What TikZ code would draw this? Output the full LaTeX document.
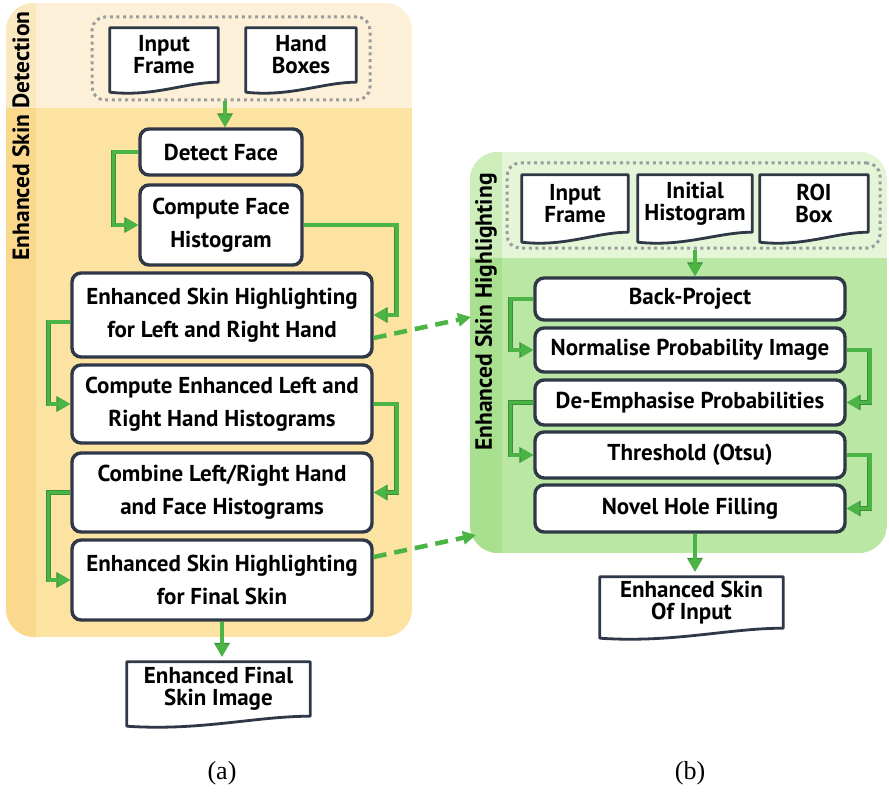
\documentclass[tikz,border=0pt]{standalone}
\usepackage{fontspec}
\setmainfont{PT Sans}
\newfontfamily\capfont{Liberation Serif}
\usetikzlibrary{calc,arrows.meta}
\pgfdeclarelayer{panel}
\pgfdeclarelayer{paper}
\pgfsetlayers{panel,paper,main}

\definecolor{orLight}{HTML}{FCF1D8}
\definecolor{orStripL}{HTML}{FAE8C0}
\definecolor{orMain}{HTML}{FDE3A2}
\definecolor{orStrip}{HTML}{FAD98C}
\definecolor{grLight}{HTML}{E4F5D8}
\definecolor{grStripL}{HTML}{CDEDBB}
\definecolor{grMain}{HTML}{BAE7A3}
\definecolor{grStrip}{HTML}{A9E08F}
\definecolor{flowgreen}{HTML}{4AB545}
\definecolor{flowedge}{HTML}{3C8E3A}
\definecolor{boxline}{HTML}{2E3846}
\definecolor{dotgray}{HTML}{9C9C9C}

\tikzset{
  stepbox/.style={draw=boxline, line width=3.4pt, rounded corners=9pt, fill=white,
    inner sep=0pt, align=center, font=\bfseries\fontsize{23}{33}\selectfont},
  paper/.style={inner sep=0pt, align=center, font=\bfseries\fontsize{23}{22}\selectfont},
  docline/.style={draw=boxline, line width=2.8pt, fill=white, line join=round},
  dotframe/.style={draw=dotgray, line width=3pt, dash pattern=on 3pt off 3.6pt,
    rounded corners=13pt, inner sep=0pt},
  flow/.style={draw=flowgreen, line width=3.6pt,
    preaction={draw=flowedge, line width=4.6pt, -{Triangle[length=14pt,width=15pt]}},
    -{Triangle[length=12.5pt,width=13pt]}},
  dashflow/.style={draw=flowgreen, line width=4.5pt, dash pattern=on 13pt off 8pt,
    -{Triangle[length=13pt,width=13pt]}},
  paneltitle/.style={rotate=90, font=\bfseries\fontsize{23.5}{22}\selectfont},
  caption/.style={font=\capfont\fontsize{26}{26}\selectfont}
}

% document symbol with a wavy lower edge, drawn behind the node text
\newcommand\paperdoc[1]{%
  \begin{pgfonlayer}{paper}
    \draw[docline] (#1.north west) -- (#1.north east) -- (#1.south east)
      .. controls ($(#1.south east)!0.3!(#1.south west)$)
      and ($(#1.south east)!0.6!(#1.south west)+(0,15)$)
      .. ($(#1.south west)+(0,10)$) -- cycle;
  \end{pgfonlayer}}

\begin{document}
\begin{tikzpicture}[x=1pt,y=-1pt]
\useasboundingbox (0,0) rectangle (889,797);

% ---------- panel backgrounds ----------
\begin{pgfonlayer}{panel}
  \begin{scope}
    \clip[rounded corners=28pt] (6,3) rectangle (412,637);
    \fill[orMain] (6,3) rectangle (412,637);
    \fill[orLight] (6,3) rectangle (412,108);
    \fill[orStrip] (6,108) rectangle (36,637);
    \fill[orStripL] (6,3) rectangle (36,108);
  \end{scope}
  \begin{scope}
    \clip[rounded corners=28pt] (470,152) rectangle (887,553);
    \fill[grMain] (470,152) rectangle (887,553);
    \fill[grLight] (470,152) rectangle (887,258);
    \fill[grStrip] (470,258) rectangle (502,553);
    \fill[grStripL] (470,152) rectangle (502,258);
  \end{scope}
\end{pgfonlayer}

\node[paneltitle] (titleA) at (21,136) {Enhanced Skin Detection};
\node[paneltitle] (titleB) at (486,312) {Enhanced Skin Highlighting};

% ---------- panel (a) ----------
\node[dotframe, minimum width=278pt, minimum height=83pt] (inA) at (231,58.5) {};
\node[paper, minimum width=108pt, minimum height=54pt] (frameA) at (164,55) {Input\\Frame};
\node[paper, minimum width=110pt, minimum height=54pt] (hands) at (301,55) {Hand\\Boxes};
\paperdoc{frameA}
\paperdoc{hands}

\node[stepbox, minimum width=162pt, minimum height=46pt] (face) at (221,152) {Detect Face};
\node[stepbox, minimum width=162pt, minimum height=80pt] (facehist) at (221,225) {Compute Face\\Histogram};
\node[stepbox, minimum width=300pt, minimum height=84pt] (hlHands) at (222,315) {Enhanced Skin Highlighting\\for Left and Right Hand};
\node[stepbox, minimum width=300pt, minimum height=78pt] (handhist) at (222,404) {Compute Enhanced Left and\\Right Hand Histograms};
\node[stepbox, minimum width=300pt, minimum height=79pt] (combine) at (222,492.5) {Combine Left/Right Hand\\and Face Histograms};
\node[stepbox, minimum width=300pt, minimum height=80pt] (hlFinal) at (222,580) {Enhanced Skin Highlighting\\for Final Skin};

\node[paper, minimum width=183pt, minimum height=54pt] (outA) at (218.5,689) {Enhanced Final\\Skin Image};
\paperdoc{outA}

\draw[flow] ([xshift=4pt]inA.south -| face.north) -- ([xshift=4pt]face.north);
\draw[flow] (face.west) -- ++(-25,0) |- (facehist.west);
\draw[flow] (facehist.east) -- ++(93,0) |- (hlHands.east);
\draw[flow] ([yshift=-7pt]hlHands.west) -- ++(-22,0) |- (handhist.west);
\draw[flow] (handhist.east) -- ++(23,0) |- (combine.east);
\draw[flow] (combine.west) -- ++(-22,0) |- (hlFinal.west);
\draw[flow] (hlFinal.south) -- ([yshift=5pt]hlFinal.south |- outA.north);

% ---------- panel (b) ----------
\node[dotframe, minimum width=373pt, minimum height=85pt] (inB) at (693.5,205.5) {};
\node[paper, minimum width=106pt, minimum height=57pt] (frameB) at (575,203.5) {Input\\Frame};
\node[paper, minimum width=114pt, minimum height=57pt] (inithist) at (695,203.5) {Initial\\Histogram};
\node[paper, minimum width=108pt, minimum height=57pt] (roi) at (814,203.5) {ROI\\Box};
\paperdoc{frameB}
\paperdoc{inithist}
\paperdoc{roi}

\node[stepbox, minimum width=310pt, minimum height=42pt] (backproj) at (690,299) {Back-Project};
\node[stepbox, minimum width=310pt, minimum height=44pt] (normal) at (690,350) {Normalise Probability Image};
\node[stepbox, minimum width=310pt, minimum height=45pt] (deemph) at (690,402.5) {De-Emphasise Probabilities};
\node[stepbox, minimum width=310pt, minimum height=46pt] (otsu) at (690,455) {Threshold (Otsu)};
\node[stepbox, minimum width=310pt, minimum height=47pt] (holes) at (690,508.5) {Novel Hole Filling};

\node[paper, minimum width=183pt, minimum height=51pt] (outB) at (691.5,602.5) {Enhanced Skin\\Of Input};
\paperdoc{outB}

\draw[flow] ([xshift=5pt]backproj.north |- inB.south) -- ([xshift=5pt]backproj.north);
\draw[flow] (backproj.west) -- ++(-23,0) |- (normal.west);
\draw[flow] (normal.east) -- ++(23,0) |- (deemph.east);
\draw[flow] (deemph.west) -- ++(-23,0) |- (otsu.west);
\draw[flow] (otsu.east) -- ++(23,0) |- (holes.east);
\draw[flow] ([xshift=5pt]holes.south) -- ([xshift=5pt,yshift=5pt]holes.south |- outB.north);

% ---------- links from panel (a) into panel (b) ----------
\coordinate (linkTop) at (471,317);
\coordinate (linkBottom) at (476,535);
\draw[dashflow] ([yshift=-23pt]hlHands.east) -- (linkTop);
\draw[dashflow] ([yshift=23pt]hlFinal.east) -- (linkBottom);

\node[caption] (capA) at (222,773) {(a)};
\node[caption] (capB) at (690,773) {(b)};
\end{tikzpicture}
\end{document}
